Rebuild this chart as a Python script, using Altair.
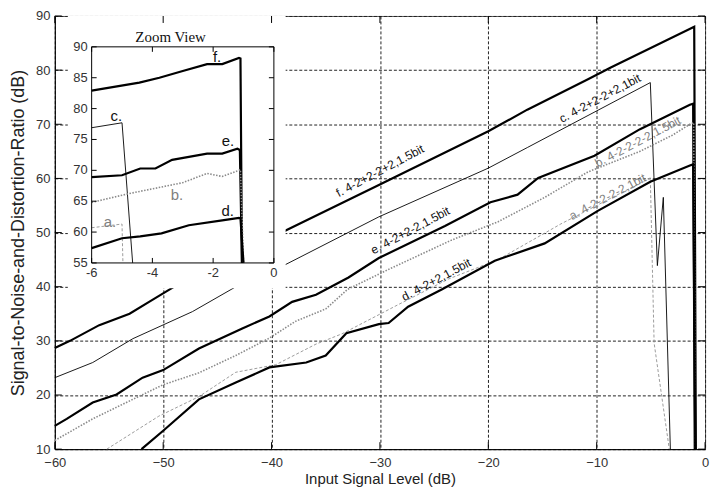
import altair as alt
import pandas as pd

# ---------------- main chart series (Input level dB -> SNDR dB) ----------------
F_X = [-60, -58.6, -55.9, -53.1, -51.3, -48.9, -38.7, -30.1, -20.0, -16.4, -10.8, -8.7, -1.0, -0.85]
F_Y = [28.7, 30.0, 32.9, 35.0, 37.2, 40.1, 50.4, 58.8, 68.7, 72.7, 78.3, 80.5, 88.0, 10]

C_X = [-60, -56.5, -52.8, -47.3, -43.2, -38.7, -30.1, -20.0, -16.4, -5.05, -4.4, -3.85, -3.2]
C_Y = [23.2, 26.0, 30.4, 35.4, 40.1, 44.1, 52.9, 61.9, 65.7, 77.7, 43.9, 56.5, 10]

E_X = [-60, -58.9, -56.5, -54.3, -51.9, -50, -46.7, -42.7, -40.2, -38.1, -35.9, -32.9, -30.1,
       -24.0, -19.8, -17.3, -15.4, -10.2, -6.0, -1.4, -1.1, -0.95]
E_Y = [14.3, 15.6, 18.6, 20.1, 23.2, 24.6, 28.6, 32.3, 34.5, 37.2, 38.5, 41.7, 45.3,
       51.2, 55.6, 57.0, 60.1, 64.2, 69.1, 73.6, 73.8, 10]

B_X = [-60, -56.5, -52.8, -50, -46.7, -43.3, -40.2, -37.8, -35.0, -33.0, -29.2, -23.4, -19.1,
       -14.8, -10.8, -6.0, -3.0, -1.4, -1.05, -0.9]
B_Y = [11.6, 15.6, 19.2, 21.9, 24.1, 27.3, 30.5, 33.6, 35.9, 39.5, 43.2, 48.6, 52.0,
       56.5, 61.2, 65.0, 68.0, 70.0, 70.3, 10]

A_X = [-55.2, -50.4, -46.7, -43.3, -39.6, -35.9, -33.5, -28.3, -23.7, -19.1, -13.3, -5.05, -4.7, -3.3]
A_Y = [10, 16.1, 19.7, 24.2, 25.6, 29.4, 31.3, 36.7, 41.4, 45.0, 51.6, 60.1, 29.6, 10]

D_X = [-52.0, -50, -46.7, -43.3, -40.2, -36.8, -35.0, -33.1, -30.1, -29.2, -27.4, -24.3,
       -19.4, -14.8, -9.9, -5.05, -1.4, -1.1, -0.9]
D_Y = [10, 13.4, 19.2, 22.3, 25.1, 26.0, 27.3, 31.4, 33.1, 33.3, 36.3, 39.5,
       44.8, 48.0, 54.0, 59.4, 62.4, 62.6, 10]

# ---------------- zoom view series ----------------
FI_X = [-6, -4.43, -3.77, -3.0, -2.2, -1.7, -1.15, -1.1, -1.05]
FI_Y = [82.9, 84.2, 85.0, 86.1, 87.2, 87.2, 88.2, 88.1, 55]
CI_X = [-6, -5.0, -4.65]
CI_Y = [76.9, 77.7, 55]
EI_X = [-6, -5.0, -4.4, -3.9, -3.35, -2.2, -1.7, -1.2, -1.12, -1.05]
EI_Y = [68.9, 69.2, 70.3, 70.3, 71.7, 72.7, 72.7, 73.5, 73.3, 55]
BI_X = [-6, -4.8, -3.8, -3.0, -2.2, -1.7, -1.1, -1.0]
BI_Y = [64.8, 66.2, 67.2, 68.0, 69.5, 69.0, 70.1, 55]
AI_X = [-6, -5.0, -4.97]
AI_Y = [60.7, 61.3, 55]
DI_X = [-6, -5.0, -4.4, -3.7, -2.8, -1.7, -1.15, -1.1, -1.0]
DI_Y = [57.4, 59.0, 59.3, 59.8, 61.1, 61.9, 62.3, 62.2, 55]

# ---------------- texts ----------------
MAIN_LABELS = ["f. 4-2+2-2+2,1.5bit", "e. 4-2+2-2,1.5bit", "d. 4-2+2,1.5bit",
               "c. 4-2+2-2+2,1bit", "b. 4-2-2-2-2,1.5bit", "a. 4-2-2-2-2,1bit"]
MAIN_LABEL_X = [-30.0, -27.2, -24.8, -9.7, -6.2, -9.0]
MAIN_LABEL_Y = [61.4, 50.4, 41.3, 74.8, 66.8, 56.6]
MAIN_LABEL_GROUP = ["dark", "dark", "dark", "dark", "gray", "gray"]

INSET_LABELS = ["f.", "e.", "d.", "c.", "b.", "a."]
INSET_LABEL_X = [-1.87, -1.51, -1.52, -5.19, -3.19, -5.4]
INSET_LABEL_Y = [88.3, 74.7, 63.4, 78.8, 66.0, 61.6]
INSET_LABEL_GROUP = ["dark", "dark", "dark", "dark", "gray", "gray"]

X_TICKS = [-60, -50, -40, -30, -20, -10, 0]
Y_TICKS = [10, 20, 30, 40, 50, 60, 70, 80, 90]
XI_TICKS = [-6, -4, -2, 0]
YI_TICKS = [55, 60, 65, 70, 75, 80, 85, 90]

# white panel behind the zoom view (main-axis units)
PANEL = {"x": [-58.8], "x2": [-38.7], "y": [39.7], "y2": [90]}

W, H = 653, 435
XI_RANGE = [37, 220]
YI_RANGE = [248, 31]

FONT = "Liberation Sans"


def series(xs, ys):
    return pd.DataFrame({"x": xs, "y": ys, "o": list(range(len(xs)))})


# ---------------- main group ----------------
xs = alt.Scale(domain=[-60, 0], nice=False, zero=False)
ys = alt.Scale(domain=[10, 90], nice=False, zero=False)
x_main = alt.X("x:Q", scale=xs, axis=alt.Axis(
    values=X_TICKS, grid=True, gridDash=[3, 2], gridColor="#222", gridOpacity=1,
    ticks=False, domainColor="#000", labelFontSize=13, labelColor="#333",
    labelFont=FONT, labelPadding=7, labelFlush=False, title="Input Signal Level (dB)",
    titleFont=FONT, titleFontSize=15, titleFontWeight="normal", titleColor="#222",
    titlePadding=2))
y_main = alt.Y("y:Q", scale=ys, axis=alt.Axis(
    values=Y_TICKS, grid=True, gridDash=[3, 2], gridColor="#222", gridOpacity=1,
    ticks=False, domainColor="#000", labelFontSize=13, labelColor="#333",
    labelFont=FONT, labelPadding=5, labelFlush=False,
    title="Signal-to-Noise-and-Distortion-Ratio (dB)",
    titleFont=FONT, titleFontSize=18, titleFontWeight="normal", titleColor="#222",
    titlePadding=8))


def line(xv, yv, color, width, dash=None, xenc=None, yenc=None):
    kw = dict(color=color, strokeWidth=width)
    if dash:
        kw["strokeDash"] = dash
    return alt.Chart(series(xv, yv)).mark_line(**kw).encode(
        x=xenc, y=yenc, order="o:Q")


GRAY_DOT = "#8a8a8a"
GRAY_DASH = "#9c9c9c"

main_lines = [
    line(F_X, F_Y, "#000", 2.2, xenc=x_main, yenc=y_main),
    line(C_X, C_Y, "#000", 0.9, xenc=x_main, yenc=y_main),
    line(E_X, E_Y, "#000", 2.2, xenc=x_main, yenc=y_main),
    line(B_X, B_Y, GRAY_DOT, 1.6, [1.5, 1.5], xenc=x_main, yenc=y_main),
    line(A_X, A_Y, GRAY_DASH, 1.0, [3, 2], xenc=x_main, yenc=y_main),
    line(D_X, D_Y, "#000", 2.2, xenc=x_main, yenc=y_main),
]

panel = alt.Chart(pd.DataFrame(PANEL)).mark_rect(fill="white", strokeWidth=0).encode(
    x=alt.X("x:Q", scale=xs), x2="x2:Q", y=alt.Y("y:Q", scale=ys), y2="y2:Q")

label_df = pd.DataFrame({"x": MAIN_LABEL_X, "y": MAIN_LABEL_Y, "t": MAIN_LABELS,
                         "g": MAIN_LABEL_GROUP})
color_scale = alt.Scale(domain=["dark", "gray"], range=["#111", "#808080"])
main_labels = alt.Chart(label_df).mark_text(
    angle=332, fontSize=12, font=FONT, align="center", baseline="middle").encode(
    x=alt.X("x:Q", scale=xs), y=alt.Y("y:Q", scale=ys), text="t:N",
    color=alt.Color("g:N", scale=color_scale, legend=None))

tick_len = 7
xt = pd.DataFrame({"x": X_TICKS})
yt = pd.DataFrame({"y": Y_TICKS})
main_ticks = [
    alt.Chart(xt).mark_rule(color="#000", strokeWidth=1).encode(
        x=alt.X("x:Q", scale=xs), y=alt.value(0), y2=alt.value(tick_len)),
    alt.Chart(xt).mark_rule(color="#000", strokeWidth=1).encode(
        x=alt.X("x:Q", scale=xs), y=alt.value(H - tick_len), y2=alt.value(H)),
    alt.Chart(yt).mark_rule(color="#000", strokeWidth=1).encode(
        y=alt.Y("y:Q", scale=ys), x=alt.value(0), x2=alt.value(tick_len)),
    alt.Chart(yt).mark_rule(color="#000", strokeWidth=1).encode(
        y=alt.Y("y:Q", scale=ys), x=alt.value(W - tick_len), x2=alt.value(W)),
]

main_group = alt.layer(*main_lines, panel, main_labels, *main_ticks)

# ---------------- inset group ----------------
xis = alt.Scale(domain=[-6, 0], range=XI_RANGE, nice=False, zero=False)
yis = alt.Scale(domain=[55, 90], range=YI_RANGE, nice=False, zero=False)
x_in = alt.X("x:Q", scale=xis, axis=None)
y_in = alt.Y("y:Q", scale=yis, axis=None)

inset_lines = [
    line(FI_X, FI_Y, "#000", 2.2, xenc=x_in, yenc=y_in),
    line(CI_X, CI_Y, "#000", 0.9, xenc=x_in, yenc=y_in),
    line(EI_X, EI_Y, "#000", 2.2, xenc=x_in, yenc=y_in),
    line(BI_X, BI_Y, GRAY_DOT, 1.6, [1.5, 1.5], xenc=x_in, yenc=y_in),
    line(AI_X, AI_Y, GRAY_DASH, 1.0, [3, 2], xenc=x_in, yenc=y_in),
    line(DI_X, DI_Y, "#000", 2.2, xenc=x_in, yenc=y_in),
]

border = alt.Chart(pd.DataFrame({"x": [-6], "x2": [0], "y": [55], "y2": [90]})).mark_rect(
    fill="transparent", stroke="#000", strokeWidth=1).encode(
    x=x_in, x2="x2:Q", y=y_in, y2="y2:Q")

il_df = pd.DataFrame({"x": INSET_LABEL_X, "y": INSET_LABEL_Y, "t": INSET_LABELS,
                      "g": INSET_LABEL_GROUP})
inset_labels = alt.Chart(il_df).mark_text(
    fontSize=15, font=FONT, align="center", baseline="middle").encode(
    x=x_in, y=y_in, text="t:N",
    color=alt.Color("g:N", scale=color_scale, legend=None))

inset_title = alt.Chart(pd.DataFrame({"x": [-3.4], "y": [91.6], "t": ["Zoom View"]})).mark_text(
    fontSize=15, font="Liberation Serif", color="#111", align="center", baseline="middle").encode(
    x=x_in, y=y_in, text="t:N")

itl = 5
xit = pd.DataFrame({"x": XI_TICKS, "t": [str(v) for v in XI_TICKS]})
yit = pd.DataFrame({"y": YI_TICKS, "t": [str(v) for v in YI_TICKS]})
inset_ticks = [
    alt.Chart(xit).mark_rule(color="#000", strokeWidth=1).encode(
        x=x_in, y=alt.value(YI_RANGE[0] - itl), y2=alt.value(YI_RANGE[0])),
    alt.Chart(xit).mark_rule(color="#000", strokeWidth=1).encode(
        x=x_in, y=alt.value(YI_RANGE[1]), y2=alt.value(YI_RANGE[1] + itl)),
    alt.Chart(yit).mark_rule(color="#000", strokeWidth=1).encode(
        y=y_in, x=alt.value(XI_RANGE[0]), x2=alt.value(XI_RANGE[0] + itl)),
    alt.Chart(yit).mark_rule(color="#000", strokeWidth=1).encode(
        y=y_in, x=alt.value(XI_RANGE[1] - itl), x2=alt.value(XI_RANGE[1])),
]
inset_tick_labels = [
    alt.Chart(xit).mark_text(fontSize=13, font=FONT, color="#333", align="center",
                             baseline="top").encode(
        x=x_in, y=alt.value(YI_RANGE[0] + 4), text="t:N"),
    alt.Chart(yit).mark_text(fontSize=13, font=FONT, color="#333", align="right",
                             baseline="middle").encode(
        y=y_in, x=alt.value(XI_RANGE[0] - 4), text="t:N"),
]

inset_group = alt.layer(*inset_lines, border, *inset_ticks, *inset_tick_labels,
                        inset_labels, inset_title)

chart = alt.layer(main_group, inset_group).resolve_scale(
    x="independent", y="independent", color="independent").properties(
    width=W, height=H,
    autosize=alt.AutoSizeParams(type="none"),
    padding={"left": 47, "top": 7, "right": 12, "bottom": 40},
    background="white",
).configure_view(stroke="#555", strokeWidth=1)

chart.save("out.html", embed_options={"renderer": "svg", "actions": False})
